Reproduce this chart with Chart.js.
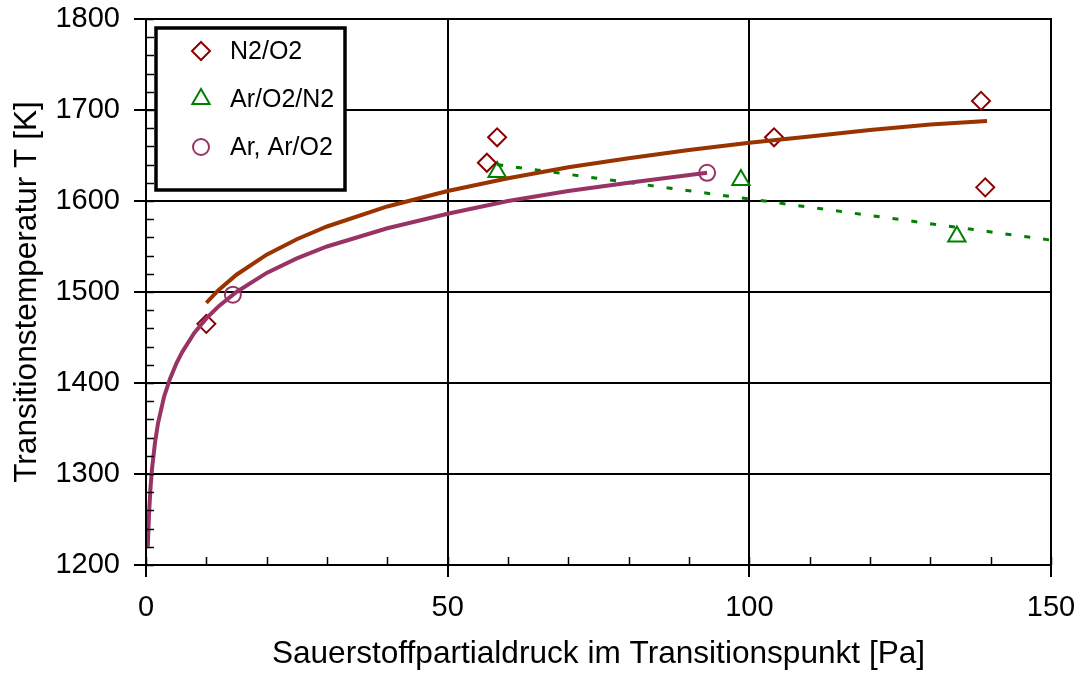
<!DOCTYPE html>
<html>
<head>
<meta charset="utf-8">
<script src="https://cdn.jsdelivr.net/npm/chart.js@4.4.1/dist/chart.umd.min.js"></script>
<style>
  html, body { margin: 0; padding: 0; background: #fff; }
  #wrap { width: 1082px; height: 673px; }
</style>
</head>
<body>
<div id="wrap"><canvas id="chart"></canvas></div>
<script>
// measured points
const n2o2X = [10, 56.5, 58.2, 104.1, 138.4, 139.1]
const n2o2Y = [1465, 1642, 1670, 1670, 1710, 1615]

const arO2N2X = [58.2, 98.6, 134.4]
const arO2N2Y = [1632, 1623, 1561]

const arX = [14.4, 93.0]
const arY = [1497, 1631]

// fitted curves
const fitN2X = [10, 12, 15, 20, 25, 30, 40, 50, 60, 70, 80, 90, 100, 110, 120, 130, 139.4]
const fitN2Y = [1488, 1502, 1519, 1541, 1558, 1572, 1594, 1611, 1625, 1637, 1647, 1656, 1664, 1671, 1678, 1684, 1688]

const fitArX = [0.3, 0.5, 0.75, 1, 1.5, 2, 3, 4, 5, 6, 8, 10, 12, 15, 20, 25, 30, 40, 50, 60, 70, 80, 93]
const fitArY = [1220, 1256, 1285, 1306, 1335, 1356, 1385, 1405, 1421, 1434, 1455, 1471, 1484, 1500, 1521, 1537, 1550, 1570, 1586, 1600, 1611, 1620, 1631]

const trendX = [58.2, 150]
const trendY = [1640, 1557]

const xTickLabels = [0, 50, 100, 150]
const yTickLabels = [1200, 1300, 1400, 1500, 1600, 1700, 1800]

const FONT = "'Liberation Sans', Arial, sans-serif"

function pts(xs, ys) {
    return xs.map((x, i) => ({ x: x, y: ys[i] }))
}

// inward minor ticks, outer frame and the boxed legend
const framePlugin = {
    id: 'frame',
    afterDraw(chart) {
        const ctx = chart.ctx
        const a = chart.chartArea
        const xs = chart.scales.x
        const ys = chart.scales.y
        ctx.save()
        ctx.strokeStyle = '#000'
        ctx.lineWidth = 1.5
        xs.ticks.forEach(t => {
            const px = Math.round(xs.getPixelForValue(t.value)) + 0.5
            ctx.beginPath()
            ctx.moveTo(px, a.bottom)
            ctx.lineTo(px, a.bottom - 8)
            ctx.stroke()
        })
        ys.ticks.forEach(t => {
            const py = Math.round(ys.getPixelForValue(t.value)) + 0.5
            ctx.beginPath()
            ctx.moveTo(a.left, py)
            ctx.lineTo(a.left + 8, py)
            ctx.stroke()
        })
        ctx.lineWidth = 2
        ctx.strokeRect(a.left, a.top, a.right - a.left, a.bottom - a.top)

        // legend
        const lx = a.left + 10, ly = a.top + 9, lw = 189, lh = 162
        ctx.fillStyle = '#fff'
        ctx.fillRect(lx, ly, lw, lh)
        ctx.lineWidth = 3.5
        ctx.strokeRect(lx, ly, lw, lh)
        const items = chart.data.datasets.filter(d => d.inLegend)
        ctx.font = '25px ' + FONT
        ctx.textBaseline = 'middle'
        ctx.textAlign = 'left'
        items.forEach((d, i) => {
            const cy = ly + 23 + i * 48
            ctx.lineWidth = d.borderWidth
            ctx.strokeStyle = d.borderColor
            ctx.fillStyle = 'transparent'
            Chart.helpers.drawPoint(ctx, {
                pointStyle: d.pointStyle,
                radius: d.pointRadius,
                borderWidth: d.borderWidth
            }, lx + 45, cy)
            ctx.fillStyle = '#000'
            ctx.fillText(d.label, lx + 74, cy + 1)
        })
        ctx.restore()
    }
}

new Chart(document.getElementById('chart'), {
    type: 'scatter',
    data: {
        datasets: [
            {
                label: 'fit N2/O2',
                data: pts(fitN2X, fitN2Y),
                showLine: true,
                borderColor: '#993300',
                borderWidth: 4,
                pointRadius: 0,
                tension: 0
            },
            {
                label: 'fit Ar',
                data: pts(fitArX, fitArY),
                showLine: true,
                borderColor: '#993366',
                borderWidth: 4,
                pointRadius: 0,
                tension: 0
            },
            {
                label: 'trend Ar/O2/N2',
                data: pts(trendX, trendY),
                showLine: true,
                borderColor: '#008000',
                borderWidth: 3,
                borderDash: [6, 13],
                pointRadius: 0
            },
            {
                label: 'N2/O2',
                inLegend: true,
                data: pts(n2o2X, n2o2Y),
                pointStyle: 'rectRot',
                pointRadius: 9,
                borderColor: '#8b0000',
                backgroundColor: 'transparent',
                borderWidth: 2
            },
            {
                label: 'Ar/O2/N2',
                inLegend: true,
                data: pts(arO2N2X, arO2N2Y),
                pointStyle: 'triangle',
                pointRadius: 10,
                borderColor: '#008000',
                backgroundColor: 'transparent',
                borderWidth: 2
            },
            {
                label: 'Ar, Ar/O2',
                inLegend: true,
                data: pts(arX, arY),
                pointStyle: 'circle',
                pointRadius: 8,
                borderColor: '#993366',
                backgroundColor: 'transparent',
                borderWidth: 2
            }
        ]
    },
    options: {
        responsive: true,
        maintainAspectRatio: false,
        animation: false,
        layout: { padding: { left: 0, top: 19, right: 31, bottom: 0 } },
        plugins: {
            legend: { display: false },
            tooltip: { enabled: false }
        },
        scales: {
            x: {
                type: 'linear',
                min: 0,
                max: 150,
                afterFit(s) {
                    s.height = 108
                    s.paddingLeft = 0
                    s.paddingRight = 0
                },
                ticks: {
                    stepSize: 10,
                    autoSkip: false,
                    maxRotation: 0,
                    color: '#000',
                    padding: 14,
                    font: { family: FONT, size: 29 },
                    callback: v => xTickLabels.includes(v) ? String(v) : ''
                },
                grid: {
                    color: c => xTickLabels.includes(c.tick.value) ? '#000' : 'transparent',
                    tickColor: c => xTickLabels.includes(c.tick.value) ? '#000' : 'transparent',
                    lineWidth: 2,
                    tickLength: 12
                },
                border: { color: '#000', width: 2 },
                title: {
                    display: true,
                    text: 'Sauerstoffpartialdruck im Transitionspunkt [Pa]',
                    color: '#000',
                    font: { family: FONT, size: 31.6 },
                    padding: { top: 0, bottom: 0 }
                }
            },
            y: {
                type: 'linear',
                min: 1200,
                max: 1800,
                afterFit(s) {
                    s.width = 146
                    s.paddingTop = 0
                    s.paddingBottom = 0
                },
                ticks: {
                    stepSize: 20,
                    autoSkip: false,
                    color: '#000',
                    padding: 14,
                    font: { family: FONT, size: 29 },
                    callback: v => yTickLabels.includes(v) ? String(v) : ''
                },
                grid: {
                    color: c => yTickLabels.includes(c.tick.value) ? '#000' : 'transparent',
                    tickColor: c => yTickLabels.includes(c.tick.value) ? '#000' : 'transparent',
                    lineWidth: 2,
                    tickLength: 12
                },
                border: { color: '#000', width: 2 },
                title: {
                    display: true,
                    text: 'Transitionstemperatur T [K]',
                    color: '#000',
                    font: { family: FONT, size: 31.6 },
                    padding: { top: 8, bottom: 0 }
                }
            }
        }
    },
    plugins: [framePlugin]
});
</script>
</body>
</html>
